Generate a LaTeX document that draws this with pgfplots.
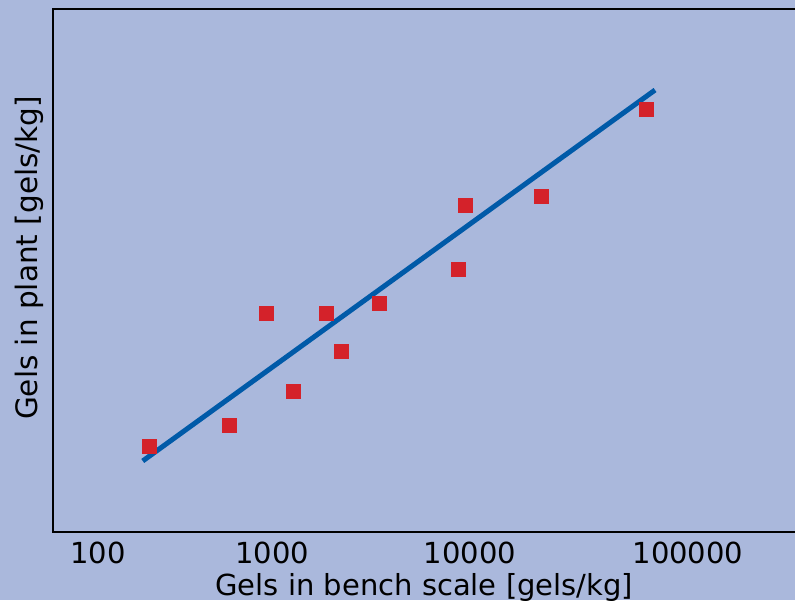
\documentclass[border=0pt]{standalone}
\usepackage{pgfplots}
\pgfplotsset{compat=1.18}
\usepackage{fontspec}
\setmainfont{DejaVu Sans}
\definecolor{bg}{RGB}{170,184,220}
\definecolor{mred}{RGB}{212,34,42}
\definecolor{mblue}{RGB}{0,90,168}
\begin{document}
\begin{tikzpicture}
\path[use as bounding box, fill=bg] (-53pt,-68pt) rectangle (742pt,532pt);
\begin{axis}[
    scale only axis,
    width=747pt, height=523pt,
    xmode=log, ymode=log,
    xmin=57.8, xmax=292000,
    ymin=10, ymax=3917,
    clip=false,
    axis line style={black},
    xtick={96.6,705,6745,81300},
    xticklabels={100,1000,10000,100000},
    ytick=\empty,
    major tick length=0pt, minor tick length=0pt,
    /pgf/number format/assume math mode=true,
    xticklabel style={font=\fontsize{29}{35}\selectfont, anchor=base, yshift=-31pt},
    every axis x label/.style={at={(axis description cs:0.497,-0.1205)}, anchor=base, font=\fontsize{29}{35}\selectfont},
    every axis y label/.style={at={(axis description cs:-0.0214,0.524)}, anchor=base, rotate=90, font=\fontsize{29.5}{35}\selectfont},
    xlabel={Gels in bench scale [gels/kg]},
    ylabel={Gels in plant [gels/kg]},
]
% heavier frame
\draw[line width=2.7pt, black] (rel axis cs:0,0) rectangle (rel axis cs:1,1);
% fitted line
\addplot[no marks, line width=5pt, color=mblue] coordinates {(161,22.5) (55800,1553)};
% measurements
\addplot[only marks, mark=square*, mark size=7pt, mark options={draw=mred, fill=mred, line width=0pt}] coordinates {
    (173,26.4) (431,33.9) (658,121.8) (895,50.0) (1305,121.8) (1549,78.9)
    (2390,136.5) (5890,201.3) (6380,418) (15200,463) (50900,1250)
};
\end{axis}
\end{tikzpicture}
\end{document}
